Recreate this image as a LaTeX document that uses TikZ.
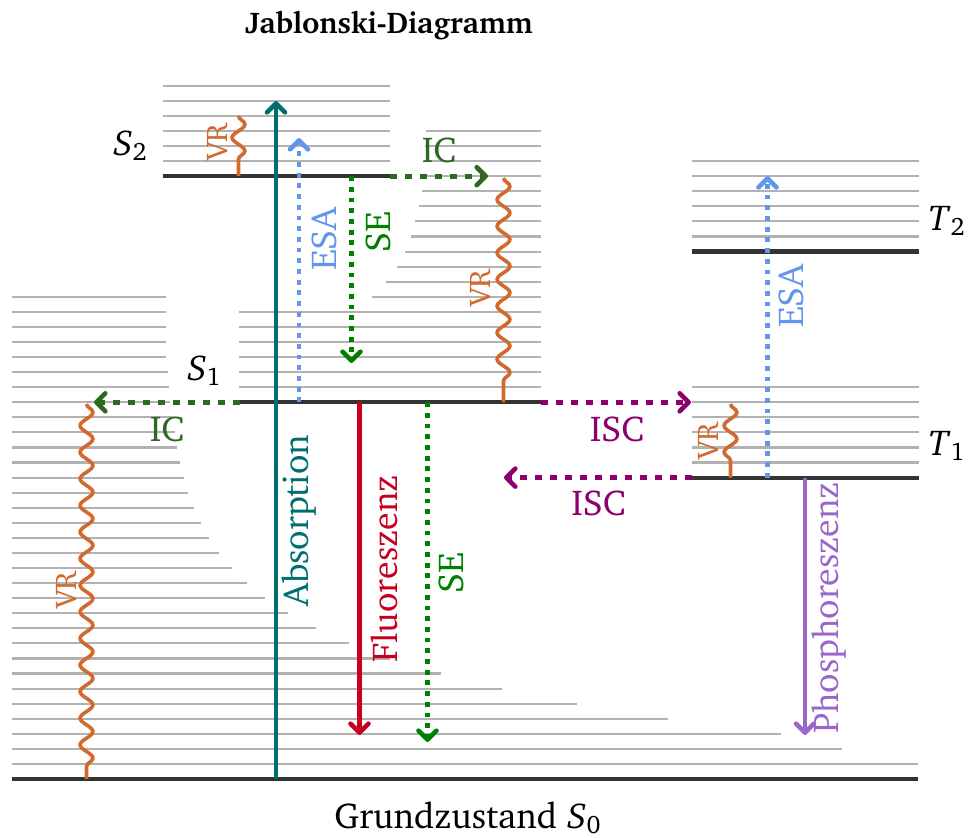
\documentclass[tikz,border=0pt]{standalone}
\usepackage[T1]{fontenc}
\usepackage{charter}
\usetikzlibrary{arrows.meta,decorations.pathmorphing}
\definecolor{lvgray}{RGB}{178,178,178}
\definecolor{lvdark}{RGB}{51,51,51}
\definecolor{abscol}{RGB}{0,110,110}
\definecolor{fluocol}{RGB}{200,0,30}
\definecolor{secol}{RGB}{0,128,0}
\definecolor{iccol}{RGB}{45,105,35}
\definecolor{vrcol}{RGB}{210,105,45}
\definecolor{esacol}{RGB}{100,149,237}
\definecolor{isccol}{RGB}{140,0,110}
\definecolor{phoscol}{RGB}{153,102,204}
\def\lvsp{15.07}
\begin{document}
\begin{tikzpicture}[x=0.5pt,y=-0.5pt,
  graylevel/.style={draw=lvgray,line width=1.05pt},
  mainlevel/.style={draw=lvdark,line width=2.1pt},
  arr/.style={line width=2.3pt,-{Straight Barb[length=4.5pt,width=9pt,round]}},
  dotline/.style={dash pattern=on 2.4pt off 2.95pt},
  dashline/.style={dash pattern=on 3.6pt off 3.9pt},
  wavy/.style={draw=vrcol,line width=1.8pt,decorate,
    decoration={snake,amplitude=3.2pt,segment length=13.3pt,post length=5pt}},
  lbl/.style={font=\fontsize{18}{21}\selectfont,inner sep=0pt},
  rlbl/.style={lbl,rotate=90,anchor=base},
  vrlbl/.style={font=\fontsize{15}{17}\selectfont,inner sep=0pt,text=vrcol,rotate=90,anchor=base},
]
\useasboundingbox (0,0) rectangle (968,837);

% ---- vibrational levels of S0
\foreach \k/\xe in {1/918,2/842,3/781,4/668,5/577,6/502,7/441,8/390,9/349,10/316,
  11/288,12/265,13/247,14/232,15/219,16/209,17/201,18/194,19/188,20/184,21/180,
  22/177,23/175,24/172,25/170,26/169,27/168,28/166,29/166,30/166,31/166,32/166}
  \draw[graylevel] (12,{779-\k*\lvsp}) -- (\xe,{779-\k*\lvsp});
% ---- vibrational levels of S1
\foreach \k/\xs in {26/239,27/239,28/239,29/239,30/239,31/239,32/372,33/386,34/397,
  35/405,36/411,37/415,38/419,39/422,40/423,41/424,42/425,43/426}
  \draw[graylevel] (\xs,{779-\k*\lvsp}) -- (541,{779-\k*\lvsp});
% ---- vibrational levels of S2
\foreach \k in {41,...,46}
  \draw[graylevel] (163,{779-\k*\lvsp}) -- (390,{779-\k*\lvsp});
% ---- vibrational levels of T1 and T2
\foreach \k in {21,...,26,36,37,38,39,40,41}
  \draw[graylevel] (692,{779-\k*\lvsp}) -- (919,{779-\k*\lvsp});

% ---- electronic levels
\coordinate (S0a) at (12,779);   \coordinate (S0b) at (918,779);
\coordinate (S1a) at (240,{779-25*\lvsp}); \coordinate (S1b) at (541,{779-25*\lvsp});
\coordinate (S2a) at (163,{779-40*\lvsp}); \coordinate (S2b) at (390,{779-40*\lvsp});
\coordinate (T1a) at (692,{779-20*\lvsp}); \coordinate (T1b) at (919,{779-20*\lvsp});
\coordinate (T2a) at (692,{779-35*\lvsp}); \coordinate (T2b) at (919,{779-35*\lvsp});
\draw[mainlevel] (S0a) -- (S0b);
\draw[mainlevel] (S1a) -- (S1b);
\draw[mainlevel] (S2a) -- (S2b);
\draw[mainlevel] (T1a) -- (T1b);
\draw[mainlevel] (T2a) -- (T2b);

% ---- arrow end points
\coordinate (absA) at (276,779);  \coordinate (absB) at (276,101);
\coordinate (esa1A) at (299,{779-25*\lvsp}); \coordinate (esa1B) at (299,138);
\coordinate (se1A) at (351.5,{779-40*\lvsp}); \coordinate (se1B) at (351.5,363);
\coordinate (ic1B) at (488,{779-40*\lvsp});
\coordinate (ic2B) at (94,{779-25*\lvsp});
\coordinate (fluA) at (359.5,{779-25*\lvsp}); \coordinate (fluB) at (359.5,735);
\coordinate (se2A) at (427.5,{779-25*\lvsp}); \coordinate (se2B) at (427.5,742);
\coordinate (isc1B) at (691,{779-25*\lvsp});
\coordinate (isc2B) at (504,{779-20*\lvsp});
\coordinate (esa2A) at (767.5,{779-20*\lvsp}); \coordinate (esa2B) at (767.5,176);
\coordinate (phoA) at (805,{779-20*\lvsp}); \coordinate (phoB) at (805,735);
\coordinate (vr2A) at (238.5,116); \coordinate (vr2B) at (238.5,{779-40*\lvsp});
\coordinate (vr1A) at (503.5,178); \coordinate (vr1B) at (503.5,{779-25*\lvsp});
\coordinate (vr0A) at (86.5,404); \coordinate (vr0B) at (86.5,779);
\coordinate (vrtA) at (730.5,404); \coordinate (vrtB) at (730.5,{779-20*\lvsp});

% ---- vibrational relaxation
\draw[wavy] (vr2A) -- (vr2B);
\draw[wavy] (vr1A) -- (vr1B);
\draw[wavy] (vr0A) -- (vr0B);
\draw[wavy] (vrtA) -- (vrtB);

% ---- transitions
\draw[arr,draw=abscol] (absA) -- (absB);
\draw[arr,draw=esacol,dotline] (esa1A) -- (esa1B);
\draw[arr,draw=secol,dotline] (se1A) -- (se1B);
\draw[arr,draw=iccol,dashline] (S2b) -- (ic1B);
\draw[arr,draw=iccol,dashline] (S1a) -- (ic2B);
\draw[arr,draw=fluocol] (fluA) -- (fluB);
\draw[arr,draw=secol,dotline] (se2A) -- (se2B);
\draw[arr,draw=isccol,dashline] (S1b) -- (isc1B);
\draw[arr,draw=isccol,dashline] (T1a) -- (isc2B);
\draw[arr,draw=esacol,dotline] (esa2A) -- (esa2B);
\draw[arr,draw=phoscol] (phoA) -- (phoB);

% ---- labels
\node[font=\fontsize{15}{18}\selectfont\bfseries,inner sep=0pt,anchor=base] (title) at (389,33) {Jablonski-Diagramm};
\node[lbl,anchor=base east] (lS2) at (148,155) {\textit{S}\textsubscript{2}};
\node[lbl,anchor=base east] (lS1) at (222,380) {\textit{S}\textsubscript{1}};
\node[lbl,anchor=base east] (lT2) at (966,230) {\textit{T}\textsubscript{2}};
\node[lbl,anchor=base east] (lT1) at (966,455) {\textit{T}\textsubscript{1}};
\node[lbl,anchor=base] (lS0) at (468,828) {Grundzustand \textit{S}\textsubscript{0}};

\node[lbl,anchor=base,text=iccol] (lic1) at (439,162) {IC};
\node[lbl,anchor=base,text=iccol] (lic2) at (167,441) {IC};
\node[lbl,anchor=base,text=isccol] (lisc1) at (617,441) {ISC};
\node[lbl,anchor=base,text=isccol] (lisc2) at (598.5,515) {ISC};

\node[rlbl,text=abscol] (labs) at (308,521) {Absorption};
\node[rlbl,text=fluocol] (lflu) at (397,569) {Fluoreszenz};
\node[rlbl,text=secol] (lse2) at (463,573) {SE};
\node[rlbl,text=secol] (lse1) at (390,232) {SE};
\node[rlbl,text=esacol] (lesa1) at (336,239) {ESA};
\node[rlbl,text=esacol] (lesa2) at (803,296) {ESA};
\node[rlbl,text=phoscol] (lpho) at (838,608) {Phosphoreszenz};

\node[vrlbl] (lvr2) at (227,142) {VR};
\node[vrlbl] (lvr1) at (490,288) {VR};
\node[vrlbl] (lvr0) at (76,590) {VR};
\node[vrlbl] (lvrt) at (718,441) {VR};
\end{tikzpicture}
\end{document}
